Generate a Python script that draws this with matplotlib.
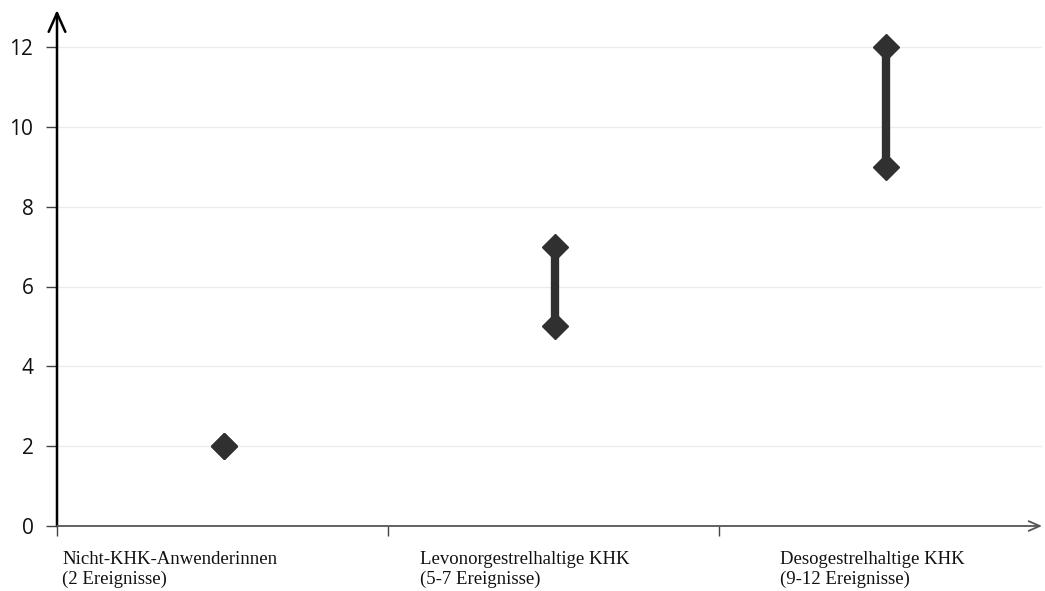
import matplotlib
matplotlib.use("Agg")
import matplotlib.pyplot as plt
import numpy as np

categories = ["Nicht-KHK-Anwenderinnen\n(2 Ereignisse)",
              "Levonorgestrelhaltige KHK\n(5-7 Ereignisse)",
              "Desogestrelhaltige KHK\n(9-12 Ereignisse)"]
low_values = [2, 5, 9]
high_values = [2, 7, 12]
y_ticks = [0, 2, 4, 6, 8, 10, 12]

W, H = 1045, 591
fig = plt.figure(figsize=(W/100, H/100), dpi=100)
left, right, bottom, top = 57, 1042, 526, 10
ax = fig.add_axes([left/W, (H-bottom)/H, (right-left)/W, (bottom-top)/H])

band = 331.0
ax.set_xlim(0, (right-left)/band)
ppu = (526-47)/12
ax.set_ylim(0, (bottom-top)/ppu)

for s in ax.spines.values():
    s.set_visible(False)

# grid
for yv in y_ticks[1:]:
    ax.axhline(yv, color="#ebebeb", lw=1, zorder=0)

xpos = np.arange(len(categories)) + 0.505
col = "#303030"
for x, lo, hi in zip(xpos, low_values, high_values):
    if hi != lo:
        ax.plot([x, x], [lo, hi], color=col, lw=6, solid_capstyle="butt", zorder=2)
    ax.plot([x, x], [lo, hi], linestyle="none", marker="D", ms=13.5, color=col, zorder=3)

ax.set_yticks(y_ticks)
ax.set_yticklabels([str(v) for v in y_ticks], fontsize=15, family="Open Sans", color="#111111")
ax.tick_params(axis="y", length=8, width=1, color="#444444", pad=9)
ax.set_xticks([0, 1, 2])
ax.set_xticklabels([])
ax.tick_params(axis="x", length=7, width=1, color="#444444")

# axis arrows
ax.annotate("", xy=(0, 1), xycoords="axes fraction", xytext=(0, -0.0), textcoords="axes fraction",
            arrowprops=dict(arrowstyle="->,head_length=1.35,head_width=0.6", color="black", lw=1.8,
                            shrinkA=0, shrinkB=0))
ax.annotate("", xy=(1, 0), xycoords="axes fraction", xytext=(0, 0), textcoords="axes fraction",
            arrowprops=dict(arrowstyle="->,head_length=0.8,head_width=0.35", color="#555555", lw=1.3,
                            shrinkA=0, shrinkB=0))

label_offsets = [5, 363, 723]
for off, lab in zip(label_offsets, categories):
    ax.text(off/band, -0.048, lab, transform=ax.get_xaxis_transform(), ha="left", va="top",
            family="Liberation Serif", fontsize=13.5, linespacing=1.2, color="#111111")

fig.savefig("out.png", dpi=100)
